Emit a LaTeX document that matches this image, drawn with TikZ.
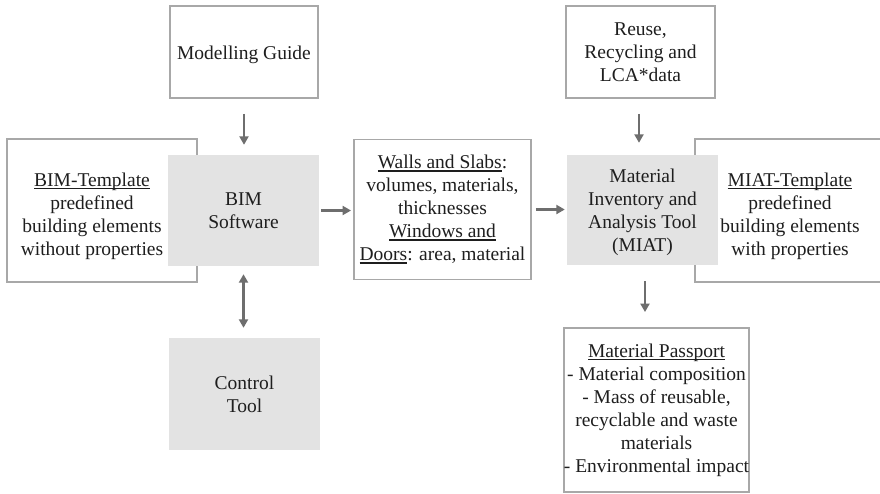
\documentclass[tikz,border=0pt]{standalone}
\usepackage{fontspec}
\setmainfont{Liberation Serif}
\usetikzlibrary{arrows.meta,calc}
\definecolor{edge}{HTML}{A8A8A8}
\definecolor{boxfill}{HTML}{E3E3E3}
\definecolor{arrowc}{HTML}{6E6E6E}
\definecolor{ink}{HTML}{1E1E1E}
% underline sitting just below the baseline
\newlength\ulwidth
\newcommand\undl[1]{\settowidth\ulwidth{#1}\rlap{\rule[-2.8pt]{\ulwidth}{1.2pt}}#1}
\tikzset{
  txt/.style={font=\fontsize{19.5}{23}\selectfont, text=ink, align=center, inner sep=0pt},
  framebox/.style={draw=edge, line width=1.9pt, fill=white, inner sep=0pt},
  greybox/.style={fill=boxfill, draw=none, inner sep=0pt, font=\fontsize{19.5}{23}\selectfont, text=ink, align=center},
  tip/.style={Triangle[length=8.5pt,width=9pt]},
  arr/.style={draw=arrowc, line width=2.4pt, -{Triangle[length=8.5pt,width=9pt]}},
  dblarr/.style={draw=arrowc, line width=2.4pt, {Triangle[length=8.5pt,width=9pt]}-{Triangle[length=8.5pt,width=9pt]}}
}
\begin{document}
\begin{tikzpicture}[x=1pt,y=-1pt]
\useasboundingbox[fill=white] (0,0) rectangle (880,493);

% framed boxes
\node[framebox, minimum width=148pt, minimum height=92pt] (mg) at (244,52) {};
\node[txt] (mgtxt) at (244,55) {Modelling Guide};
\node[framebox, minimum width=149pt, minimum height=92pt, txt] (reuse) at (640.5,52) {Reuse,\\Recycling and\\LCA*data};
\node[framebox, minimum width=190pt, minimum height=143pt] (bimt) at (102,210.5) {};
\node[txt] (bimttxt) at (92,216) {\undl{BIM-Template}\\predefined\\building elements\\without properties};
\node[framebox, minimum width=177pt, minimum height=140pt, txt] (walls) at (442.5,209.5)
  {\undl{Walls and Slabs}:\\volumes, materials,\\thicknesses\\\undl{Windows and}\\\undl{Doors}: area, material};
\begin{scope}
\clip (0,0) rectangle (880,493);
\node[framebox, minimum width=200pt, minimum height=143pt] (miatt) at (795,210.5) {};
\end{scope}
\node[txt] (miatttxt) at (790,216) {\undl{MIAT-Template}\\predefined\\building elements\\with properties};
\node[framebox, minimum width=183pt, minimum height=164pt, txt] (pp) at (656.5,410)
  {\undl{Material Passport}\\- Material composition\\- Mass of reusable,\\recyclable and waste\\materials\\- Environmental impact};

% grey tool boxes
\node[greybox, minimum width=151pt, minimum height=111pt] (bim) at (243.5,210.5) {BIM\\Software};
\node[greybox, minimum width=151pt, minimum height=110pt] (miat) at (642.5,210) {};
\node[txt] (miattxt) at (642.5,212.5) {Material\\Inventory and\\Analysis Tool\\(MIAT)};
\node[greybox, minimum width=151pt, minimum height=112pt] (ctrl) at (244.5,394) {Control\\Tool};

% connectors
\draw[arr, shorten <=15pt, shorten >=10pt] (mg.south) -- (mg.south |- bim.north);
\draw[arr, shorten <=15pt, shorten >=12pt] ($(reuse.south)+(-1.5,0)$) -- ($(reuse.south |- miat.north)+(-1.5,0)$);
\draw[arr, shorten <=2pt, shorten >=2pt] (bim.east) -- (bim.east -| walls.west);
\draw[arr, shorten <=4pt, shorten >=2pt] (walls.east) -- (walls.east -| miat.west);
\draw[arr, shorten <=16pt, shorten >=15pt] ($(miat.south)+(2.5,0)$) -- ($(miat.south |- pp.north)+(2.5,0)$);
\draw[dblarr, shorten <=8pt, shorten >=10pt] (bim.south) -- (bim.south |- ctrl.north);
\end{tikzpicture}
\end{document}
